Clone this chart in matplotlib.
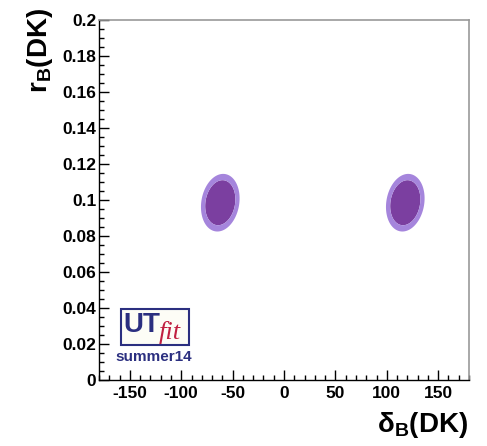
import numpy as np
import matplotlib
matplotlib.use("Agg")
import matplotlib.pyplot as plt
from matplotlib.ticker import MultipleLocator
from matplotlib.patches import Rectangle

plt.rcParams['font.family'] = ['Liberation Sans', 'DejaVu Sans']
plt.rcParams['font.weight'] = 'bold'
plt.rcParams['axes.unicode_minus'] = False
plt.rcParams['mathtext.fontset'] = 'custom'
plt.rcParams['mathtext.rm'] = 'Liberation Sans:bold'
plt.rcParams['mathtext.bf'] = 'Liberation Sans:bold'
plt.rcParams['mathtext.it'] = 'Liberation Sans:bold'

# two symmetric solutions for (delta_B, r_B)
delta_centres = [-62.0, 118.0]
rb_centres = [0.0985, 0.0985]
sigma_delta = 10.8
sigma_rb = 0.0092
rho = 0.15
# contour radii (in sigma units) for inner / outer region
levels = [0.0, 1.36, 1.74]
colours = ['#7b3fa0', '#a585dc']

xticks = [-150, -100, -50, 0, 50, 100, 150]
xlabels = ['-150', '-100', '-50', '0', '50', '100', '150']
yticks = [0, 0.02, 0.04, 0.06, 0.08, 0.1, 0.12, 0.14, 0.16, 0.18, 0.2]
ylabels = ['0', '0.02', '0.04', '0.06', '0.08', '0.1', '0.12', '0.14', '0.16', '0.18', '0.2']

# grid and distance to the nearest solution
dx = np.linspace(-180, 180, 721)
ry = np.linspace(0, 0.2, 801)
X, Y = np.meshgrid(dx, ry)
dist = np.full(X.shape, np.inf)
for xc, yc in zip(delta_centres, rb_centres):
    u = (X - xc) / sigma_delta
    v = (Y - yc) / sigma_rb
    d = np.sqrt((u**2 - 2 * rho * u * v + v**2) / (1 - rho**2))
    dist = np.minimum(dist, d)

fig = plt.figure(figsize=(4.87, 4.46), dpi=100)
ax = fig.add_axes([99/487, 1 - 380/446, 370/487, 360/446])

ax.contourf(X, Y, dist, levels=levels, colors=colours, antialiased=True)

ax.set_xlim(-180, 180)
ax.set_ylim(0, 0.2)
ax.set_xticks(xticks)
ax.set_xticklabels(xlabels)
ax.set_yticks(yticks)
ax.set_yticklabels(ylabels)
ax.xaxis.set_minor_locator(MultipleLocator(10))
ax.yaxis.set_minor_locator(MultipleLocator(0.005))
ax.tick_params(which='both', direction='in', top=False, right=False,
               labelsize=12.5, width=1, color='black')
ax.tick_params(which='major', length=7)
ax.tick_params(which='minor', length=3.6)
ax.tick_params(axis='y', pad=2)
ax.tick_params(axis='x', pad=4)
for s in ['top', 'right']:
    ax.spines[s].set_color('#999999')
    ax.spines[s].set_linewidth(1.2)
for s in ['left', 'bottom']:
    ax.spines[s].set_linewidth(1)

fig.text(468/487, 1 - 425/446, r'δ$_\mathbf{B}$(DK)', ha='right', va='center',
         fontsize=20, fontweight='bold')
fig.text(40/487, 1 - 8/446, r'r$_\mathbf{B}$(DK)', ha='center', va='top',
         rotation=90, fontsize=20, fontweight='bold')

# UTfit logo
box = Rectangle((121/487, 1 - 345/446), 68/487, 36/446, transform=fig.transFigure,
                facecolor='#fdfdf6', edgecolor='#2b2f80', linewidth=1.5)
fig.add_artist(box)
fig.text(123/487, 1 - 325/446, 'UT', fontsize=20, fontweight='bold',
         color='#2b2f80', ha='left', va='center', family='Liberation Sans')
fig.text(159/487, 1 - 333/446, 'fit', fontsize=19, style='italic',
         fontweight='normal', color='#c02040', ha='left', va='center',
         family='Liberation Serif')
fig.text(154/487, 1 - 357/446, 'summer14', fontsize=11, fontweight='bold',
         color='#2b2f80', ha='center', va='center')

fig.savefig('out.png', dpi=100)
